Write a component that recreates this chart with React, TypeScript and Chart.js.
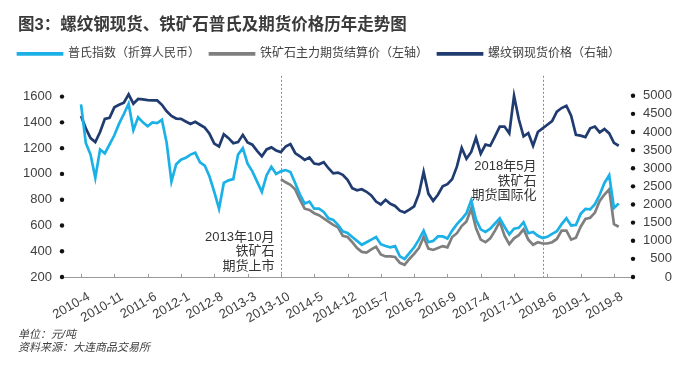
import React, { useEffect, useRef } from 'react';
import { Chart, registerables } from 'chart.js';

Chart.register(...registerables);

// ---- categories (monthly) ----
const firstYear = 2009;
const firstMonth = 12;
const monthCount = 121; // 2009-12 .. 2019-12
const months: string[] = [];
for (let i = 0; i < monthCount; i++) {
  const m0 = firstMonth - 1 + i;
  months.push(`${firstYear + Math.floor(m0 / 12)}-${(m0 % 12) + 1}`);
}

const xTickLabels = [
  '2010-4', '2010-11', '2011-6', '2012-1', '2012-8', '2013-3', '2013-10', '2014-5', '2014-12',
  '2015-7', '2016-2', '2016-9', '2017-4', '2017-11', '2018-6', '2019-1', '2019-8',
];

const leftTickValues = [200, 400, 600, 800, 1000, 1200, 1400, 1600];
const rightTickValues = [0, 500, 1000, 1500, 2000, 2500, 3000, 3500, 4000, 4500, 5000];
const leftAxisMin = 200;
const leftAxisMax = 1808;
const rightAxisMin = 0;
const rightAxisMax = 5715;

// ---- series ----
const seriesNames = ['普氏指数（折算人民币）', '铁矿石主力期货结算价（左轴）', '螺纹钢现货价格（右轴）'];

const plattsStart = '2010-4';
const plattsIndex = [
  1540, 1240, 1150, 970, 1190, 1160, 1230, 1300, 1390, 1465,
  1545, 1340, 1440, 1400, 1370, 1400, 1395, 1420, 1240, 940,
  1075, 1110, 1125, 1150, 1165, 1090, 1065, 980, 860, 730,
  930, 950, 960, 1150, 1200, 1080, 1020, 940, 860, 990,
  1055, 1000, 1020, 1030, 1015, 930, 840, 770, 785, 730,
  730, 705, 655, 643, 605, 555, 542, 510, 480, 450,
  470, 490, 510, 455, 440, 430, 440, 360, 340, 385,
  430, 490, 560, 470, 480, 515, 515, 498, 560, 610,
  650, 695, 795, 645, 570, 550, 575, 615, 655, 590,
  530, 575, 582, 625, 540, 550, 520, 502, 512, 535,
  555, 610, 655, 600, 604, 690, 728, 725, 765, 838,
  930, 990, 735, 770,
];

const futuresStart = '2013-10';
const futuresPrice = [
  960, 935, 915, 880, 800, 730, 720, 695, 680, 655,
  630, 605, 585, 520, 510, 470, 425, 395, 390, 415,
  435, 375, 360, 360, 355, 310, 295, 340, 380, 425,
  510, 420, 410, 425, 440, 430, 510, 540, 595, 630,
  730, 580, 490, 470, 500, 560, 630, 520, 455, 500,
  525, 570, 490, 450, 470, 460, 460, 470, 495, 560,
  560, 490, 505, 590, 650, 660, 700, 790, 840, 880,
  610, 590,
];

const rebarStart = '2010-4';
const rebarSpot = [
  4440, 4100, 3830, 3720, 4000, 4360, 4390, 4680, 4750, 4810,
  5040, 4780, 4910, 4900, 4880, 4870, 4870, 4750, 4570, 4440,
  4370, 4360, 4290, 4220, 4280, 4200, 4120, 3950, 3680, 3600,
  3940, 3830, 3690, 3720, 3920, 3710, 3650, 3480, 3330, 3520,
  3575, 3490, 3445, 3600, 3665, 3420, 3330, 3230, 3295, 3130,
  3110, 3165, 3000, 2860, 2880, 2820, 2680, 2450, 2390, 2420,
  2350, 2250, 2080, 2000, 2130, 2020, 1960, 1830, 1780, 1860,
  1950, 2290, 2900, 2300, 2100, 2270, 2500, 2560, 2700, 3050,
  3560, 3260, 3450, 3840, 3400, 3650, 3620, 3880, 4150, 4150,
  3960, 5000, 4350, 3880, 3970, 3620, 4000, 4100, 4200, 4300,
  4560, 4660, 4725, 4450, 3920, 3900, 3860, 4100, 4150, 3990,
  4080, 3960, 3700, 3620,
];

// ---- annotations ----
const eventMonths = ['2013-10', '2018-5'];
const eventNotes = [
  ['2013年10月', '铁矿石', '期货上市'],
  ['2018年5月', '铁矿石', '期货国际化'],
];
const eventNoteAnchors = [510, 1055]; // left-axis value of first note line

const titleText = '图3：螺纹钢现货、铁矿石普氏及期货价格历年走势图';
const footnotes = ['单位：元/吨', '资料来源：大连商品交易所'];

const FONT = "'Liberation Sans', 'Noto Sans CJK SC', sans-serif";
const TEXT = '#404040';
const C_PLATTS = '#1bb1e6';
const C_FUT = '#7f7f7f';
const C_REBAR = '#1f3b6f';
const LINE_W = 2.7;

function pad(start: string, values: number[]): (number | null)[] {
  const s = months.indexOf(start);
  return months.map((_, i) => (i >= s && i - s < values.length ? values[i - s] : null));
}

const decorPlugin = {
  id: 'decor',
  afterLayout(chart: any) {
    const lg = chart.legend;
    if (lg) {
      lg.left -= 10;
      lg.right -= 10;
    }
  },
  beforeDatasetsDraw(chart: any) {
    const { ctx, chartArea, scales } = chart;
    ctx.save();
    eventMonths.forEach((m, i) => {
      const px = Math.round(scales.x.getPixelForValue(months.indexOf(m))) + 0.5;
      ctx.setLineDash([2, 2]);
      ctx.strokeStyle = '#8a8a8a';
      ctx.lineWidth = 1;
      ctx.beginPath();
      ctx.moveTo(px, chartArea.top + 6);
      ctx.lineTo(px, chartArea.bottom);
      ctx.stroke();
      ctx.setLineDash([]);
      ctx.fillStyle = '#333333';
      ctx.font = `13px ${FONT}`;
      ctx.textAlign = 'right';
      ctx.textBaseline = 'middle';
      const y0 = scales.y.getPixelForValue(eventNoteAnchors[i]);
      eventNotes[i].forEach((line, j) => ctx.fillText(line, px - 7, y0 + j * 14.5));
    });
    ctx.restore();
  },
  afterDraw(chart: any) {
    const { ctx, chartArea, scales } = chart;
    ctx.save();
    ctx.fillStyle = '#111111';
    const pairs: [string, number][] = [['y', chartArea.left], ['y1', chartArea.right]];
    pairs.forEach(([id, xp]) => {
      const sc = scales[id];
      sc.ticks.forEach((t: any) => {
        const py = sc.getPixelForValue(t.value);
        ctx.beginPath();
        ctx.arc(xp, py, 2.2, 0, Math.PI * 2);
        ctx.fill();
      });
    });
    ctx.strokeStyle = '#9a9a9a';
    ctx.lineWidth = 1;
    scales.x.ticks.forEach((t: any) => {
      const px = Math.round(scales.x.getPixelForValue(t.value)) + 0.5;
      ctx.beginPath();
      ctx.moveTo(px, chartArea.bottom);
      ctx.lineTo(px, chartArea.bottom - 3);
      ctx.stroke();
    });
    ctx.restore();
  },
};

export default function App() {
  const ref = useRef<HTMLCanvasElement>(null);
  useEffect(() => {
    document.body.style.margin = '0';
    const canvas = ref.current;
    if (!canvas) return;
    const mk = (label: string, data: (number | null)[], color: string, axis: string) => ({
      label,
      data,
      borderColor: color,
      backgroundColor: color,
      borderWidth: LINE_W,
      pointRadius: 0,
      tension: 0,
      yAxisID: axis,
    });
    const chart = new Chart(canvas, {
      type: 'line',
      data: {
        labels: months,
        datasets: [
          mk(seriesNames[0], pad(plattsStart, plattsIndex), C_PLATTS, 'y'),
          mk(seriesNames[1], pad(futuresStart, futuresPrice), C_FUT, 'y'),
          mk(seriesNames[2], pad(rebarStart, rebarSpot), C_REBAR, 'y1'),
        ],
      },
      options: {
        responsive: false,
        animation: false,
        devicePixelRatio: 1,
        layout: { padding: { left: 18, right: 28, top: 0, bottom: 0 } },
        plugins: {
          title: {
            display: true,
            text: titleText,
            align: 'start',
            color: '#3a3a3a',
            font: { size: 16.5, weight: 'bold', family: FONT, lineHeight: 1.2 },
            padding: { top: 16, bottom: 2 },
          },
          legend: {
            display: true,
            align: 'start',
            labels: {
              boxWidth: 44,
              boxHeight: 1,
              padding: 10,
              color: TEXT,
              font: { size: 12, family: FONT },
            },
          },
          subtitle: {
            display: true,
            position: 'bottom',
            align: 'start',
            text: footnotes,
            color: TEXT,
            font: { size: 11, style: 'italic', family: FONT, lineHeight: 1.2 },
            padding: { top: 0, bottom: 13 },
          },
          tooltip: { enabled: false },
        },
        scales: {
          x: {
            type: 'category',
            offset: false,
            border: { display: true, color: '#9a9a9a', width: 1 },
            grid: { display: false, drawTicks: false },
            ticks: {
              autoSkip: false,
              maxRotation: 30,
              minRotation: 30,
              padding: 12,
              labelOffset: 8,
              color: TEXT,
              font: { size: 13, family: FONT },
            },
            afterBuildTicks: (s: any) => {
              s.ticks = s.ticks.filter((t: any) => xTickLabels.includes(months[t.value]));
            },
            afterFit: (s: any) => {
              s.height = 51.6;
            },
          },
          y: {
            type: 'linear',
            position: 'left',
            min: leftAxisMin,
            max: leftAxisMax,
            border: { display: false },
            grid: { display: false, drawTicks: false },
            ticks: {
              padding: 10,
              color: TEXT,
              font: { size: 13, family: FONT },
              callback: (v: any) => String(v),
            },
            afterBuildTicks: (s: any) => {
              s.ticks = leftTickValues.map((v) => ({ value: v }));
            },
            afterFit: (s: any) => {
              s.width = 44;
            },
          },
          y1: {
            type: 'linear',
            position: 'right',
            min: rightAxisMin,
            max: rightAxisMax,
            border: { display: false },
            grid: { display: false, drawTicks: false },
            ticks: {
              padding: 10,
              crossAlign: 'far',
              color: TEXT,
              font: { size: 13, family: FONT },
              callback: (v: any) => String(v),
            },
            afterBuildTicks: (s: any) => {
              s.ticks = rightTickValues.map((v) => ({ value: v }));
            },
            afterFit: (s: any) => {
              s.width = 39;
            },
          },
        },
      },
      plugins: [decorPlugin],
    } as any);
    return () => chart.destroy();
  }, []);
  return <canvas ref={ref} width={700} height={368} style={{ display: 'block' }} />;
}
